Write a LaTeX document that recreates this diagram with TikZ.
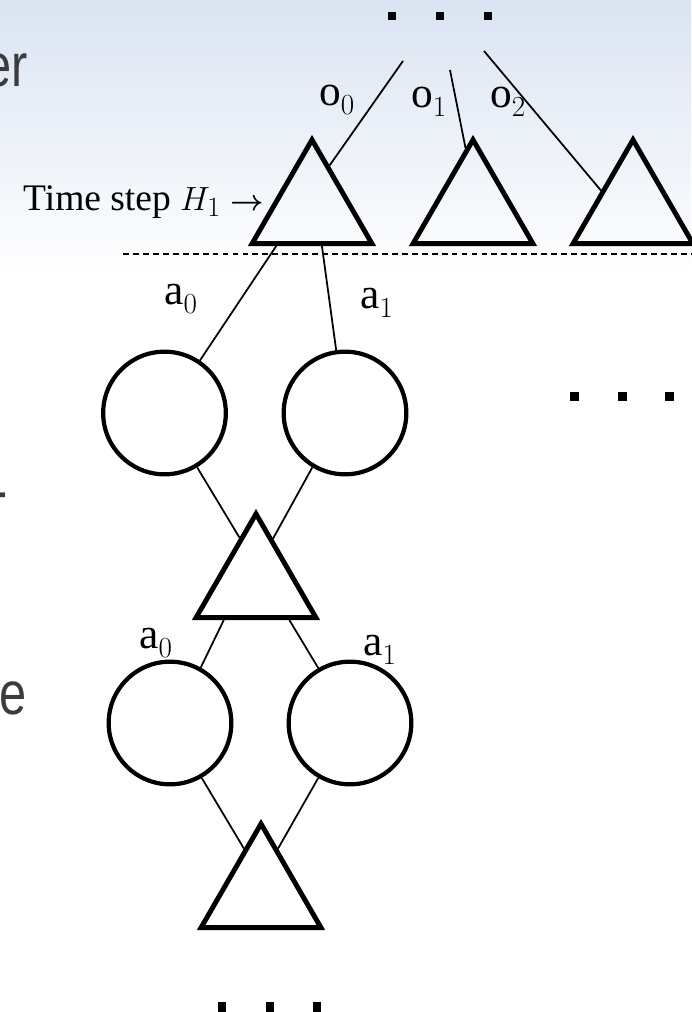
\documentclass[tikz,border=0pt]{standalone}
\usepackage{fontspec}
\setmainfont{Liberation Serif}
\newfontfamily\slidefont[FakeStretch=0.8]{Liberation Sans}
\usetikzlibrary{shapes.geometric}
\definecolor{bgblue}{RGB}{218,228,242}
\definecolor{slidegray}{RGB}{60,60,60}

\begin{document}
\begin{tikzpicture}[x=0.03cm,y=-0.03cm]
    \tikzset{
        tri/.style={regular polygon,regular polygon sides=3,draw,line width=4.2pt,minimum size=4.15cm,inner sep=0pt},
        leaf/.style={circle,draw,line width=3.6pt,minimum size=3.68cm,inner sep=0pt},
        edge/.style={line width=1.5pt},
        lbl/.style={font=\fontsize{37}{44}\selectfont,inner sep=0pt},
        slide/.style={font=\slidefont\fontsize{52}{60}\selectfont,text=slidegray,inner sep=0pt}
    }

    \useasboundingbox (0,0) rectangle (691,1012);
    \shade[top color=bgblue,bottom color=white] (0,0) rectangle (691,280);

    % cut-off slide text
    \node[slide,anchor=base east] (sl1) at (28,87) {er};
    \node[slide,anchor=base east] (sl2) at (8,511) {-};
    \node[slide,anchor=base west] (sl3) at (-1,714) {e};

    % time step H1
    \node[lbl,anchor=base west,font=\fontsize{32}{40}\selectfont] (tlabel) at (23,210)
        {Time step \scalebox{1.15}{$H_1$} {\mathversion{bold}$\rightarrow$}};
    \draw[line width=1.3pt,dash pattern=on 5pt off 3.5pt] (123,254) -- (700,254);

    \node[tri] (t1) at (312,209) {};
    \node[tri] (t2) at (473,209) {};
    \node[tri] (t3) at (633,209) {};

    \coordinate (o0end) at (403,61);
    \coordinate (o1end) at (450,70);
    \coordinate (o2end) at (484,51);
    \draw[edge] (o0end) -- (t1.68);
    \draw[edge] (o1end) -- (t2.97);
    \draw[edge] (o2end) -- (t3.150);
    \node[lbl] (o0) at (337,100) {o$_0$};
    \node[lbl] (o1) at (429,102) {o$_1$};
    \node[lbl] (o2) at (508,102) {o$_2$};

    \foreach \x in {392,440,488} {
        \fill (\x-4,12) rectangle (\x+4,20);
    }

    % first action level
    \node[leaf] (c1) at (164.5,413) {};
    \node[leaf] (c2) at (345,413) {};
    \draw[edge] (t1.226) -- (c1.56);
    \draw[edge] (t1.285) -- (c2.98);
    \node[lbl] (a0) at (181,299) {a$_0$};
    \node[lbl] (a1) at (377,303) {a$_1$};

    \foreach \x in {574,622,669} {
        \fill (\x-4.5,391.5) rectangle (\x+4.5,400.5);
    }

    \node[tri] (tm) at (256,583) {};
    \draw[edge] (c1.301) -- (tm.110);
    \draw[edge] (c2.239) -- (tm.69);

    % second action level
    \node[leaf] (c3) at (170,723) {};
    \node[leaf] (c4) at (350,723) {};
    \draw[edge] (tm.229) -- (c3.61);
    \draw[edge] (tm.312) -- (c4.120);
    \node[lbl] (a0b) at (156,643) {a$_0$};
    \node[lbl] (a1b) at (380,650) {a$_1$};

    \node[tri] (tb) at (261,893) {};
    \draw[edge] (c3.300) -- (tb.111);
    \draw[edge] (c4.240) -- (tb.69);

    \foreach \x in {222,270,317} {
        \fill (\x-4,1002) rectangle (\x+4,1016);
    }
\end{tikzpicture}
\end{document}
